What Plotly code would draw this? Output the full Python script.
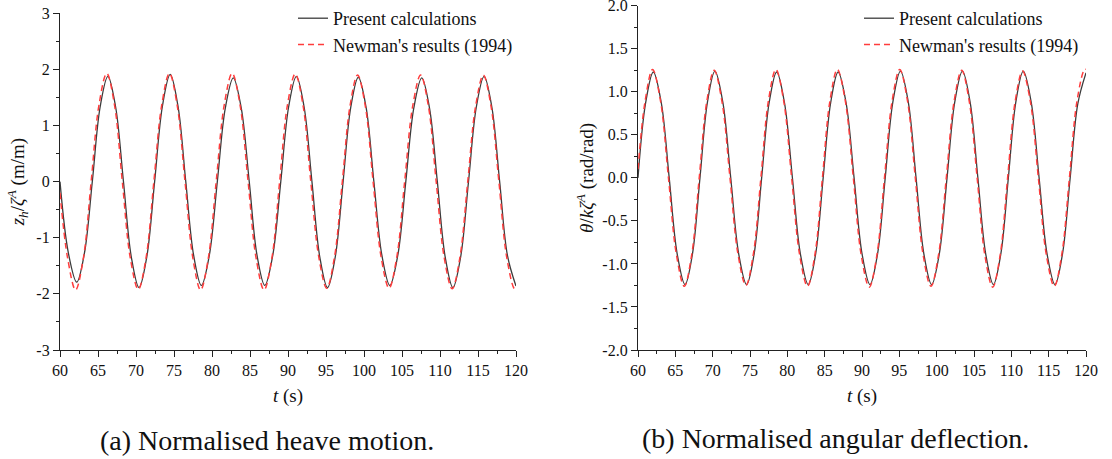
import plotly.graph_objects as go

# ---------------- data ----------------
heave_t_present = [60, 61.1, 62.2, 63.22, 64.25, 65.28, 66.3, 67.32, 68.35, 69.38, 70.4, 71.42,
                   72.45, 73.48, 74.5, 75.52, 76.55, 77.58, 78.6, 79.65, 80.7, 81.75, 82.8, 83.85,
                   84.9, 85.92, 86.95, 88.0, 89.05, 90.08, 91.1, 92.12, 93.15, 94.18, 95.2, 96.22,
                   97.25, 98.25, 99.25, 100.28, 101.3, 102.35, 103.4, 104.45, 105.5, 106.55, 107.6,
                   108.62, 109.65, 110.68, 111.7, 112.72, 113.75, 114.78, 115.8, 116.82, 117.85,
                   118.88, 120]
heave_present = [0, -1.27, -1.79, -1.27, 0, 1.33, 1.875, 1.33, 0, -1.34, -1.89, -1.34,
                 0, 1.35, 1.91, 1.35, 0, -1.31, -1.85, -1.31, 0, 1.31, 1.85, 1.31,
                 0, -1.31, -1.85, -1.31, 0, 1.33, 1.875, 1.33, 0, -1.34, -1.89, -1.34,
                 0, 1.32, 1.86, 1.32, 0, -1.31, -1.85, -1.31, 0, 1.31, 1.85,
                 1.31, 0, -1.34, -1.89, -1.34, 0, 1.33, 1.875, 1.33, 0,
                 -1.32, -1.86]

heave_t_newman = [60, 61.0, 62.05, 63.08, 64.1, 65.12, 66.15, 67.18, 68.2, 69.25, 70.3, 71.32,
                  72.35, 73.38, 74.4, 75.42, 76.45, 77.48, 78.5, 79.52, 80.55, 81.6, 82.65, 83.7,
                  84.75, 85.8, 86.85, 87.88, 88.9, 89.92, 90.95, 91.98, 93.0, 94.05, 95.1, 96.12,
                  97.15, 98.15, 99.15, 100.18, 101.2, 102.25, 103.3, 104.32, 105.35, 106.4, 107.45,
                  108.48, 109.5, 110.55, 111.6, 112.62, 113.65, 114.68, 115.7, 116.72, 117.75,
                  118.78, 119.8, 120]
heave_newman = [-0.2, -1.36, -1.93, -1.36, 0, 1.36, 1.93, 1.36, 0, -1.36, -1.92, -1.36,
                0, 1.36, 1.93, 1.36, 0, -1.36, -1.93, -1.36, 0, 1.36, 1.93, 1.36,
                0, -1.36, -1.93, -1.36, 0, 1.36, 1.92, 1.36, 0, -1.34, -1.9, -1.34,
                0, 1.34, 1.9, 1.34, 0, -1.34, -1.9, -1.34, 0, 1.34, 1.9,
                1.34, 0, -1.35, -1.91, -1.35, 0, 1.34, 1.9, 1.34, 0,
                -1.35, -1.91, -1.9]

angle_t_present = [60, 61.02, 62.05, 63.12, 64.18, 65.24, 66.3, 67.3, 68.3, 69.3, 70.3, 71.36,
                   72.42, 73.48, 74.55, 75.56, 76.56, 77.56, 78.57, 79.62, 80.68, 81.74, 82.8, 83.8,
                   84.8, 85.8, 86.8, 87.87, 88.94, 90.0, 91.07, 92.09, 93.11, 94.13, 95.15, 96.2,
                   97.24, 98.28, 99.33, 100.36, 101.39, 102.42, 103.45, 104.48, 105.52, 106.56, 107.6,
                   108.6, 109.6, 110.6, 111.6, 112.66, 113.72, 114.78, 115.85, 116.86, 117.88,
                   118.9, 120]
angle_present = [0, 0.87, 1.23, 0.87, 0, -0.88, -1.24, -0.88, 0, 0.88, 1.24, 0.88,
                 0, -0.88, -1.24, -0.88, 0, 0.87, 1.23, 0.87, 0, -0.88, -1.24, -0.88,
                 0, 0.87, 1.23, 0.87, 0, -0.88, -1.24, -0.88, 0, 0.88, 1.24, 0.88,
                 0, -0.88, -1.24, -0.88, 0, 0.88, 1.24, 0.88, 0, -0.88, -1.24,
                 -0.88, 0, 0.88, 1.24, 0.88, 0, -0.88, -1.24, -0.88, 0,
                 0.86, 1.22]

angle_t_newman = [60, 60.95, 61.95, 63.02, 64.08, 65.14, 66.2, 67.2, 68.2, 69.2, 70.2, 71.26,
                  72.32, 73.38, 74.45, 75.46, 76.46, 77.46, 78.47, 79.52, 80.58, 81.64, 82.7, 83.7,
                  84.7, 85.7, 86.7, 87.77, 88.84, 89.9, 90.97, 91.99, 93.01, 94.03, 95.05, 96.1,
                  97.14, 98.18, 99.23, 100.26, 101.29, 102.32, 103.35, 104.38, 105.42, 106.46, 107.5,
                  108.5, 109.5, 110.5, 111.5, 112.56, 113.62, 114.68, 115.75, 116.76, 117.78,
                  118.79, 119.8, 120]
angle_newman = [0.1, 0.89, 1.26, 0.89, 0, -0.89, -1.26, -0.89, 0, 0.88, 1.25, 0.88,
                0, -0.88, -1.25, -0.88, 0, 0.89, 1.26, 0.89, 0, -0.89, -1.26, -0.89,
                0, 0.89, 1.26, 0.89, 0, -0.9, -1.27, -0.9, 0, 0.89, 1.26, 0.89,
                0, -0.89, -1.26, -0.89, 0, 0.88, 1.25, 0.88, 0, -0.9, -1.27,
                -0.9, 0, 0.88, 1.24, 0.88, 0, -0.89, -1.26, -0.89, 0,
                0.89, 1.26, 1.26]

x_ticks = [60, 65, 70, 75, 80, 85, 90, 95, 100, 105, 110, 115, 120]
heave_ticks = [-3, -2, -1, 0, 1, 2, 3]
heave_ticktext = ["-3", "-2", "-1", "0", "1", "2", "3"]
angle_ticks = [-2.0, -1.5, -1.0, -0.5, 0.0, 0.5, 1.0, 1.5, 2.0]
angle_ticktext = ["-2.0", "-1.5", "-1.0", "-0.5", "0.0", "0.5", "1.0", "1.5", "2.0"]

series_names = ["Present calculations", "Newman's results (1994)"]
captions = ["(a) Normalised heave motion.", "(b) Normalised angular deflection."]

# ---------------- styling ----------------
FONT = "Liberation Serif, Times New Roman, serif"
BLACK = "#3c3c3c"
RED = "#ff3c3c"
W, H = 1112, 459


def px_x(p):
    return p / W


def px_y(p):
    return 1 - p / H


fig = go.Figure()

fig.add_trace(go.Scatter(x=heave_t_present, y=heave_present, mode="lines", name=series_names[0],
                         line=dict(color=BLACK, width=1.3, shape="spline", smoothing=1.0),
                         xaxis="x", yaxis="y", legend="legend"))
fig.add_trace(go.Scatter(x=heave_t_newman, y=heave_newman, mode="lines", name=series_names[1],
                         line=dict(color=RED, width=1.5, dash="6px,4px", shape="spline", smoothing=1.0),
                         xaxis="x", yaxis="y", legend="legend"))
fig.add_trace(go.Scatter(x=angle_t_present, y=angle_present, mode="lines", name=series_names[0],
                         line=dict(color=BLACK, width=1.3, shape="spline", smoothing=1.0),
                         xaxis="x2", yaxis="y2", legend="legend2"))
fig.add_trace(go.Scatter(x=angle_t_newman, y=angle_newman, mode="lines", name=series_names[1],
                         line=dict(color=RED, width=1.5, dash="6px,4px", shape="spline", smoothing=1.0),
                         xaxis="x2", yaxis="y2", legend="legend2"))

axis_common = dict(showline=True, linecolor="#222", linewidth=1.3, ticks="outside", ticklen=6,
                   tickwidth=1.2, tickcolor="#222", showgrid=False, zeroline=False,
                   ticklabeloverflow="allow",
                   tickfont=dict(family=FONT, size=16, color="#111"), automargin=False)

minor_x = dict(ticks="outside", ticklen=3, tickwidth=1.2, tickcolor="#222", dtick=2.5, tick0=60, showgrid=False)
xcommon = dict(axis_common, range=[60, 120], tickvals=x_ticks, minor=minor_x,
               title=dict(text="<i>t</i> (s)", font=dict(family=FONT, size=19, color="#111"), standoff=10))

fig.update_layout(
    width=W, height=H,
    margin=dict(l=0, r=0, t=0, b=0, autoexpand=False),
    paper_bgcolor="white", plot_bgcolor="white",
    font=dict(family=FONT, color="#111"),
    xaxis=dict(xcommon, domain=[px_x(60), px_x(516)], anchor="y"),
    yaxis=dict(axis_common, domain=[px_y(350), px_y(13.3)], anchor="x", range=[-3, 3],
               tickvals=heave_ticks, ticktext=heave_ticktext,
               minor=dict(ticks="outside", ticklen=3, tickwidth=1.2, tickcolor="#222", dtick=0.5, tick0=0, showgrid=False),
               title=dict(text="<i>z<sub>h</sub></i>/<i>ζ<sup>A</sup></i> (m/m)",
                          font=dict(family=FONT, size=19, color="#111"), standoff=6)),
    xaxis2=dict(xcommon, domain=[px_x(638), px_x(1086)], anchor="y2"),
    yaxis2=dict(axis_common, domain=[px_y(350), px_y(5.7)], anchor="x2", range=[-2, 2],
                tickvals=angle_ticks, ticktext=angle_ticktext,
                minor=dict(ticks="outside", ticklen=3, tickwidth=1.2, tickcolor="#222", dtick=0.25, tick0=0, showgrid=False),
                title=dict(text="<i>θ</i>/<i>kζ<sup>A</sup></i> (rad/rad)",
                           font=dict(family=FONT, size=19, color="#111"), standoff=3)),
    legend=dict(x=px_x(293), y=1, xanchor="left", yanchor="top", bgcolor="rgba(0,0,0,0)",
                font=dict(family=FONT, size=18, color="#111"), tracegroupgap=0, itemwidth=30),
    legend2=dict(x=px_x(859), y=1, xanchor="left", yanchor="top", bgcolor="rgba(0,0,0,0)",
                 font=dict(family=FONT, size=18, color="#111"), tracegroupgap=0, itemwidth=30),
    showlegend=True,
)

fig.add_annotation(text=captions[0], x=px_x(267), y=px_y(440), xref="paper", yref="paper",
                   xanchor="center", yanchor="middle", showarrow=False,
                   font=dict(family=FONT, size=28, color="#111"))
fig.add_annotation(text=captions[1], x=px_x(835), y=px_y(438), xref="paper", yref="paper",
                   xanchor="center", yanchor="middle", showarrow=False,
                   font=dict(family=FONT, size=28, color="#111"))

# remove the browser's default page margin so the figure fills the window exactly
fig.write_html("out.html", config={"displayModeBar": False},
               post_script="document.body.style.margin='0px';")
